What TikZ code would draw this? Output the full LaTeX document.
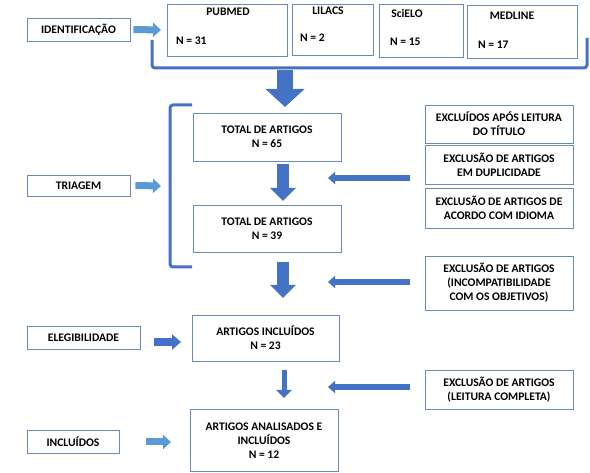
\documentclass[tikz,border=0pt]{standalone}
\usepackage{fontspec}
\setmainfont{Carlito}
\usepackage{tikz}
\usetikzlibrary{arrows.meta, positioning}
\definecolor{boxblue}{HTML}{6A8CB8}
\definecolor{darkarrow}{HTML}{4472C4}
\definecolor{lightarrow}{HTML}{5B9BD5}

\begin{document}
\begin{tikzpicture}[
        x=1pt, y=-1pt,
        box/.style={rectangle, draw=boxblue, line width=0.9pt, fill=white, inner sep=0pt, align=center, font=\bfseries\fontsize{11.6}{14}\selectfont},
        txt/.style={inner sep=0pt, font=\bfseries\fontsize{11.6}{14}\selectfont},
        sidearrow/.style={draw=lightarrow, line width=7pt, -{Triangle[length=8pt, width=14pt]}},
        elegarrow/.style={draw=darkarrow, line width=8pt, -{Triangle[length=9pt, width=15pt]}},
        bigarrow/.style={draw=darkarrow, line width=16pt, -{Triangle[length=18pt, width=38pt]}},
        midarrow/.style={draw=darkarrow, line width=12pt, -{Triangle[length=13pt, width=25pt]}},
        leftarrow/.style={draw=darkarrow, line width=6pt, -{Triangle[length=7pt, width=12pt]}},
        thinarrow/.style={draw=darkarrow, line width=5pt, -{Triangle[length=8pt, width=15pt]}},
        bracket/.style={draw=darkarrow, line width=3pt, rounded corners=3pt}
    ]
    \useasboundingbox (0,0) rectangle (590,473);
    % identificacao
    \node[box, minimum width=103pt, minimum height=23pt] (ident) at (78.5,29.5) {IDENTIFICAÇÃO};
    \node[box, minimum width=120pt, minimum height=52pt] (pubmed) at (227,30) {};
    \node[box, minimum width=81pt, minimum height=51pt] (lilacs) at (332.5,29.5) {};
    \node[box, minimum width=84pt, minimum height=53pt] (scielo) at (421,30.5) {};
    \node[box, minimum width=110pt, minimum height=53pt] (medline) at (522,31.5) {};
    \node[txt] (pubmedname) at (228,12) {PUBMED};
    \node[txt, anchor=west] (pubmedn) at (176,41) {N = 31};
    \node[txt] (lilacsname) at (328,11) {LILACS};
    \node[txt, anchor=west] (lilacsn) at (300,38) {N = 2};
    \node[txt] (scieloname) at (407,13) {SciELO};
    \node[txt, anchor=west] (scielon) at (390,42) {N = 15};
    \node[txt] (medlinename) at (512,16) {MEDLINE};
    \node[txt, anchor=west] (medlinen) at (478,45) {N = 17};
    \draw[bracket] (152,40) -- (152,68) -- (587,68) -- (587,38);
    \coordinate (identtip) at (161,30);
    \draw[sidearrow] (ident.east) ++(3,0) -- (identtip);
    \coordinate (bigtop) at (285,70);
    \coordinate (bigtip) at (285,107);
    \draw[bigarrow] (bigtop) -- (bigtip);
    % triagem
    \node[box, minimum width=103pt, minimum height=21pt] (triagem) at (78.5,185.5) {TRIAGEM};
    \draw[bracket] (192,105) -- (170,105) -- (170,267) -- (192,267);
    \coordinate (triagemtip) at (161,186);
    \draw[sidearrow] (triagem.east) ++(5,0) -- (triagemtip);
    \node[box, minimum width=148pt, minimum height=48pt] (total65) at (267,137) {TOTAL DE ARTIGOS\\N = 65};
    \node[box, minimum width=148pt, minimum height=47pt] (total39) at (267,228.5) {TOTAL DE ARTIGOS\\N = 39};
    \coordinate (midtop) at (283,164);
    \coordinate (midtip) at (283,201);
    \draw[midarrow] (midtop) -- (midtip);
    \coordinate (lowtop) at (283,262);
    \coordinate (lowtip) at (283,298);
    \draw[midarrow] (lowtop) -- (lowtip);
    \node[box, minimum width=148pt, minimum height=38pt] (titulo) at (499,124) {EXCLUÍDOS APÓS LEITURA\\DO TÍTULO};
    \node[box, minimum width=148pt, minimum height=39pt] (duplic) at (499,164.5) {EXCLUSÃO DE ARTIGOS\\EM DUPLICIDADE};
    \node[box, minimum width=148pt, minimum height=40pt] (idioma) at (499,208) {EXCLUSÃO DE ARTIGOS DE\\ACORDO COM IDIOMA};
    \node[box, minimum width=148pt, minimum height=54pt] (objetivos) at (499,283) {EXCLUSÃO DE ARTIGOS\\(INCOMPATIBILIDADE\\COM OS OBJETIVOS)};
    \coordinate (exctip1) at (328,178);
    \coordinate (exctip2) at (328,282);
    \draw[leftarrow] (410,178) coordinate (excstart1) -- (exctip1);
    \draw[leftarrow] (410,282) coordinate (excstart2) -- (exctip2);
    % elegibilidade
    \node[box, minimum width=113pt, minimum height=23pt] (elegib) at (83.5,337.5) {ELEGIBILIDADE};
    \node[box, minimum width=147pt, minimum height=46pt] (artigos23) at (265.5,338) {ARTIGOS INCLUÍDOS\\N = 23};
    \coordinate (elegtip) at (181,342);
    \draw[elegarrow] (elegib.east) ++(14,4.5) -- (elegtip);
    \coordinate (thintop) at (284,370);
    \coordinate (thintip) at (284,398);
    \draw[thinarrow] (thintop) -- (thintip);
    \node[box, minimum width=148pt, minimum height=39pt] (completa) at (499,389.5) {EXCLUSÃO DE ARTIGOS\\(LEITURA COMPLETA)};
    \coordinate (exctip3) at (328,387);
    \draw[leftarrow] (410,387) coordinate (excstart3) -- (exctip3);
    % incluidos
    \node[box, minimum width=92pt, minimum height=23pt] (incluidos) at (73,441.5) {INCLUÍDOS};
    \node[box, minimum width=148pt, minimum height=62pt] (artigos12) at (264,440.5) {ARTIGOS ANALISADOS E\\INCLUÍDOS\\N = 12};
    \coordinate (incltip) at (171,442);
    \draw[sidearrow] (incluidos.east) ++(27,0.5) -- (incltip);
\end{tikzpicture}
\end{document}
